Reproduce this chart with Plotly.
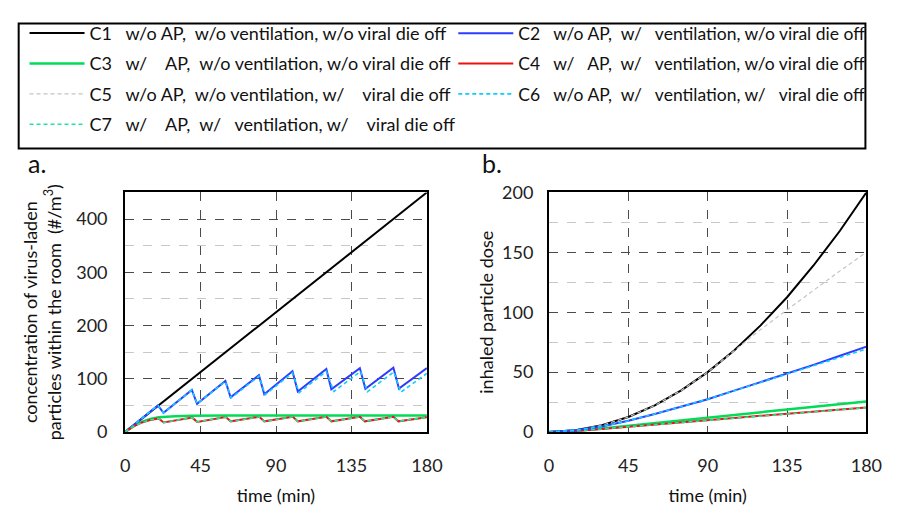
import plotly.graph_objects as go

NB = "\u00a0"

# ---------------- data: panel a (concentration, #/m3) ----------------
t_c1 = [0, 180]
c1_conc = [0, 450]
c5_conc = [0, 450]

t_c2 = [0, 19.6, 22.9, 39.8, 42.9, 59.8, 62.9, 79.8, 83, 99.8, 103, 120, 123, 140, 143.3, 160, 163.3, 180]
c2_conc = [0, 50, 36, 79, 53, 96, 65, 106.5, 71, 114, 76, 118.5, 80, 120, 81, 121, 81.5, 120]
t_c6 = [0, 19.6, 22.9, 39.8, 42.9, 59.8, 63.2, 79.8, 83.5, 99.8, 103.8, 120, 124.5, 140.5, 144.5, 160.3, 164.3, 180]
c6_conc = [0, 50, 36, 79, 53, 95, 64, 105, 70, 111, 74, 114, 76, 114, 75.5, 113, 74.5, 110]

t_c3 = [0, 5, 10, 15, 20, 25, 30, 40, 60, 180]
c3_conc = [0, 11, 19, 24.5, 27.5, 29, 29.8, 30.5, 31, 31]

t_c4 = [0, 5, 10, 15, 20, 23, 40, 43, 60, 63, 80, 83, 100, 103, 120, 123, 140, 143, 160, 163, 180]
c4_conc = [0, 10.5, 18, 22.5, 25.5, 18, 27, 19, 28, 20, 28.5, 20, 28.5, 20, 28.5, 20, 28.5, 20, 28.5, 20, 27.5]
c7_conc = [0, 10.5, 18, 22.5, 25.5, 18, 27, 19, 28, 20, 28.5, 20, 28.5, 20, 28.5, 20, 28.5, 20, 28.5, 20, 27.5]

# ---------------- data: panel b (inhaled dose) ----------------
t_dose = [0, 15, 30, 45, 60, 75, 90, 105, 120, 135, 150, 165, 180]
c1_dose = [0, 1.4, 5.6, 12.5, 22.2, 34.7, 50, 68, 89, 112.5, 139, 168, 200]
c5_dose = [0, 1.4, 5.6, 12.5, 22.2, 34.7, 50, 67.5, 85.5, 102, 118.5, 134.5, 150]
c2_dose = [0, 1.4, 4.6, 9.4, 15.1, 21.0, 27.4, 34.5, 41.7, 48.6, 56.0, 63.7, 71.3]
c6_dose = [0, 1.4, 4.6, 9.4, 15.1, 21.0, 27.4, 34.4, 41.4, 48.1, 55.1, 62.2, 69.3]
c3_dose = [0, 1.0, 3.0, 5.2, 7.5, 9.8, 12.1, 14.3, 16.6, 18.8, 21.1, 23.3, 25.5]
c4_dose = [0, 0.9, 2.6, 4.3, 6.1, 7.9, 9.9, 11.7, 13.5, 15.3, 17.0, 18.8, 20.5]
c7_dose = [0, 0.9, 2.6, 4.3, 6.1, 7.9, 9.8, 11.6, 13.4, 15.1, 16.8, 18.6, 20.3]

x_ticks = [0, 45, 90, 135, 180]
ya_ticks = [0, 100, 200, 300, 400]
yb_ticks = [0, 50, 100, 150, 200]

names = {
    "C1": f"C1{NB*3}w/o AP,{NB*2}w/o ventilation, w/o viral die off",
    "C2": f"C2{NB*3}w/o AP,{NB*2}w/{NB*3}ventilation, w/o viral die off",
    "C3": f"C3{NB*3}w/{NB*4}AP,{NB*2}w/o ventilation, w/o viral die off",
    "C4": f"C4{NB*3}w/{NB*3}AP,{NB*2}w/{NB*3}ventilation, w/o viral die off",
    "C5": f"C5{NB*3}w/o AP,{NB*2}w/o ventilation, w/{NB*4}viral die off",
    "C6": f"C6{NB*3}w/o AP,{NB*2}w/{NB*3}ventilation, w/{NB*3}viral die off",
    "C7": f"C7{NB*3}w/{NB*4}AP,{NB*2}w/{NB*3}ventilation, w/{NB*4}viral die off",
}

styles = {
    "C1": dict(color="#000000", width=2, dash="solid"),
    "C2": dict(color="#2f3cff", width=2, dash="solid"),
    "C3": dict(color="#00dd55", width=2.5, dash="solid"),
    "C4": dict(color="#ee1111", width=2, dash="solid"),
    "C5": dict(color="#c4c4c4", width=1.2, dash="4px,3px"),
    "C6": dict(color="#11ccff", width=1.6, dash="4px,3px"),
    "C7": dict(color="#22e6a0", width=1.6, dash="4px,3px"),
}
legend_of = {"C1": "legend", "C3": "legend", "C5": "legend", "C7": "legend",
             "C2": "legend2", "C4": "legend2", "C6": "legend2"}
rank = {"C1": 1, "C3": 2, "C5": 3, "C7": 4, "C2": 1, "C4": 2, "C6": 3}

panel_a = {
    "C5": (t_c1, c5_conc), "C1": (t_c1, c1_conc), "C3": (t_c3, c3_conc),
    "C2": (t_c2, c2_conc), "C6": (t_c6, c6_conc), "C4": (t_c4, c4_conc),
    "C7": (t_c4, c7_conc),
}
panel_b = {
    "C1": (t_dose, c1_dose), "C5": (t_dose, c5_dose), "C3": (t_dose, c3_dose),
    "C4": (t_dose, c4_dose), "C7": (t_dose, c7_dose), "C2": (t_dose, c2_dose),
    "C6": (t_dose, c6_dose),
}

fig = go.Figure()
for k, (tx, ty) in panel_a.items():
    fig.add_trace(go.Scatter(x=tx, y=ty, mode="lines", name=names[k], line=styles[k],
                             legend=legend_of[k], legendrank=rank[k], legendgroup=k,
                             xaxis="x", yaxis="y", showlegend=True))
for k, (tx, ty) in panel_b.items():
    fig.add_trace(go.Scatter(x=tx, y=ty, mode="lines", name=names[k], line=styles[k],
                             legend=legend_of[k], legendgroup=k,
                             xaxis="x2", yaxis="y2", showlegend=False))

W, H = 899, 506
FONT = "Lato, 'Open Sans', sans-serif"

def xd(a, b):
    return [a / W, b / W]

def yd(top, bot):
    return [1 - bot / H, 1 - top / H]

axis_common = dict(showline=True, mirror=True, linecolor="black", linewidth=2,
                   ticks="", zeroline=False, showgrid=True, gridcolor="#4a4a4a",
                   griddash="dash", gridwidth=1,
                   tickfont=dict(family=FONT, size=18, color="#222"))

TITLE_FONT = dict(family=FONT, size=18, color="#111")

fig.update_layout(
    width=W, height=H, margin=dict(l=0, r=0, t=0, b=0),
    paper_bgcolor="white", plot_bgcolor="white",
    font=dict(family=FONT, color="#111"),
    xaxis=dict(domain=xd(123, 432), range=[0, 180], tickvals=x_ticks, anchor="y",
               ticklabelstandoff=16,
               title=dict(text="time (min)", font=TITLE_FONT, standoff=18),
               **axis_common),
    yaxis=dict(domain=yd(189, 440), range=[0, 450], tickvals=ya_ticks, anchor="x",
               ticklabelstandoff=12,
               minor=dict(dtick=50, tick0=0, showgrid=True, gridcolor="#c8c8c8",
                          griddash="dash", gridwidth=1),
               title=dict(text="concentration of virus-laden<br>particles within the room  (#/m<sup>3</sup>)",
                          font=TITLE_FONT, standoff=10),
               **axis_common),
    xaxis2=dict(domain=xd(557, 882), range=[0, 180], tickvals=x_ticks, anchor="y2",
                ticklabelstandoff=16,
                title=dict(text="time (min)", font=TITLE_FONT, standoff=18),
                **axis_common),
    yaxis2=dict(domain=yd(189, 440), range=[0, 200], tickvals=yb_ticks, anchor="x2",
                ticklabelstandoff=10,
                minor=dict(dtick=25, tick0=0, showgrid=True, gridcolor="#c8c8c8",
                           griddash="dash", gridwidth=1),
                title=dict(text="inhaled particle dose", font=TITLE_FONT, standoff=4),
                **axis_common),
    legend=dict(x=20 / W, y=1 - 3 / H, xanchor="left", yanchor="top",
                orientation="v", tracegroupgap=4, itemwidth=55,
                bgcolor="rgba(0,0,0,0)", borderwidth=0,
                font=dict(family=FONT, size=18, color="#111")),
    legend2=dict(x=459 / W, y=1 - 3.5 / H, xanchor="left", yanchor="top",
                 orientation="v", tracegroupgap=4.6, itemwidth=55,
                 bgcolor="rgba(0,0,0,0)", borderwidth=0,
                 font=dict(family=FONT, size=17.5, color="#111")),
    shapes=[dict(type="rect", xref="paper", yref="paper",
                 x0=14 / W, x1=881 / W, y0=1 - 143 / H, y1=1 - 12 / H,
                 line=dict(color="black", width=2), fillcolor="rgba(0,0,0,0)")],
    annotations=[
        dict(text="a.", xref="paper", yref="paper", x=22 / W, y=1 - 158 / H,
             xanchor="left", yanchor="middle", showarrow=False,
             font=dict(family=FONT, size=25, color="#111")),
        dict(text="b.", xref="paper", yref="paper", x=486 / W, y=1 - 158 / H,
             xanchor="left", yanchor="middle", showarrow=False,
             font=dict(family=FONT, size=25, color="#111")),
    ],
)

fig.write_html("out.html")
